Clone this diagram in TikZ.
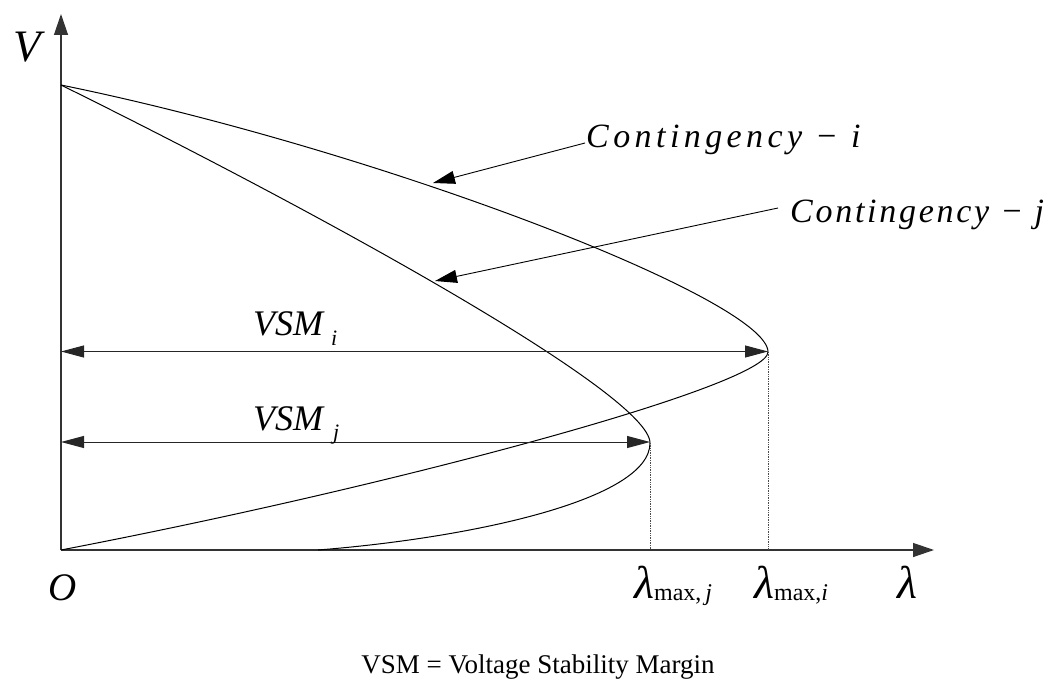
\documentclass[tikz,border=0pt]{standalone}
\usepackage{fontspec}
\setmainfont{Liberation Serif}
\newfontfamily\spacedfont[LetterSpace=13]{Liberation Serif}
\newfontfamily\spacedfontb[LetterSpace=8]{Liberation Serif}
\usetikzlibrary{arrows.meta}
\tikzset{
  axis/.style={line width=1.3pt, black!80, -{Triangle[length=21pt,width=14pt]}},
  curve/.style={line width=1pt, black},
  pointer/.style={line width=0.9pt, black, -{Triangle[length=22pt,width=13pt]}},
  margin/.style={line width=1pt, black!85, {Triangle[length=23pt,width=12pt]}-{Triangle[length=23pt,width=12pt]}},
  guide/.style={line width=0.7pt, black!70, densely dotted},
  lbl/.style={inner sep=0pt, anchor=base west},
}
\begin{document}
\begin{tikzpicture}[x=1pt,y=-1pt]
\useasboundingbox (0,0) rectangle (1050,685);
% axes
\coordinate (O) at (61,550);
\coordinate (Vtip) at (61,14);
\coordinate (Ltip) at (934,550);
\draw[axis] (O) -- (Vtip);
\draw[axis] (O) -- (Ltip);
% key points
\coordinate (start) at (61,85);
\coordinate (nosei) at (768,352);
\coordinate (nosej) at (650,443);
\coordinate (endj) at (318,550);
\coordinate (footi) at (768,550);
\coordinate (footj) at (650,550);
% P-V curves
\draw[curve] (start) .. controls (380,150) and (768,300) .. (nosei)
  .. controls (768,385) and (400,485) .. (O);
\draw[curve] (start) .. controls (330,218) and (650,395) .. (nosej)
  .. controls (650,500) and (470,538) .. (endj);
% dotted guides
\draw[guide] (nosei) -- (footi);
\draw[guide] (nosej) -- (footj);
% margins
\coordinate (mi0) at (61,351.5);
\coordinate (mi1) at (768,351.5);
\coordinate (mj0) at (61,442);
\coordinate (mj1) at (650,442);
\draw[margin] (mi0) -- (mi1);
\draw[margin] (mj0) -- (mj1);
% labels
\node[lbl] (labV) at (13,62) {\fontsize{45}{50}\selectfont\itshape V};
\node[lbl] (labO) at (48,600) {\fontsize{39}{44}\selectfont\itshape O};
\node[lbl] (labL) at (897,598) {\fontsize{46}{50}\selectfont\itshape λ};
\node[lbl] (labLj) at (634,598) {\fontsize{46}{50}\selectfont\itshape λ\raisebox{-2pt}{\fontsize{24}{26}\selectfont\upshape max,\,\itshape j}};
\node[lbl] (labLi) at (754,598) {\fontsize{46}{50}\selectfont\itshape λ\raisebox{-2pt}{\fontsize{24}{26}\selectfont\upshape max,\itshape i}};
\node[lbl] (vsmi) at (253,335) {\fontsize{36}{40}\selectfont\itshape VSM\hspace{8pt}\raisebox{-10pt}{\fontsize{22}{24}\selectfont i}};
\node[lbl] (vsmj) at (253,430) {\fontsize{36}{40}\selectfont\itshape VSM\hspace{10pt}\raisebox{-9pt}{\fontsize{22}{24}\selectfont j}};
\node[lbl] (ci) at (586,147) {\fontsize{34}{38}\spacedfont\itshape Contingency − i};
\node[lbl] (cj) at (790,222) {\fontsize{34}{38}\spacedfontb\itshape Contingency − j};
\node[inner sep=0pt, anchor=base] (note) at (538,673) {\fontsize{27}{30}\selectfont VSM = Voltage Stability Margin};
% pointers
\coordinate (ci0) at (585,143);
\coordinate (ci1) at (433,183);
\coordinate (cj0) at (778,208);
\coordinate (cj1) at (435,281);
\draw[pointer] (ci0) -- (ci1);
\draw[pointer] (cj0) -- (cj1);
\end{tikzpicture}
\end{document}
